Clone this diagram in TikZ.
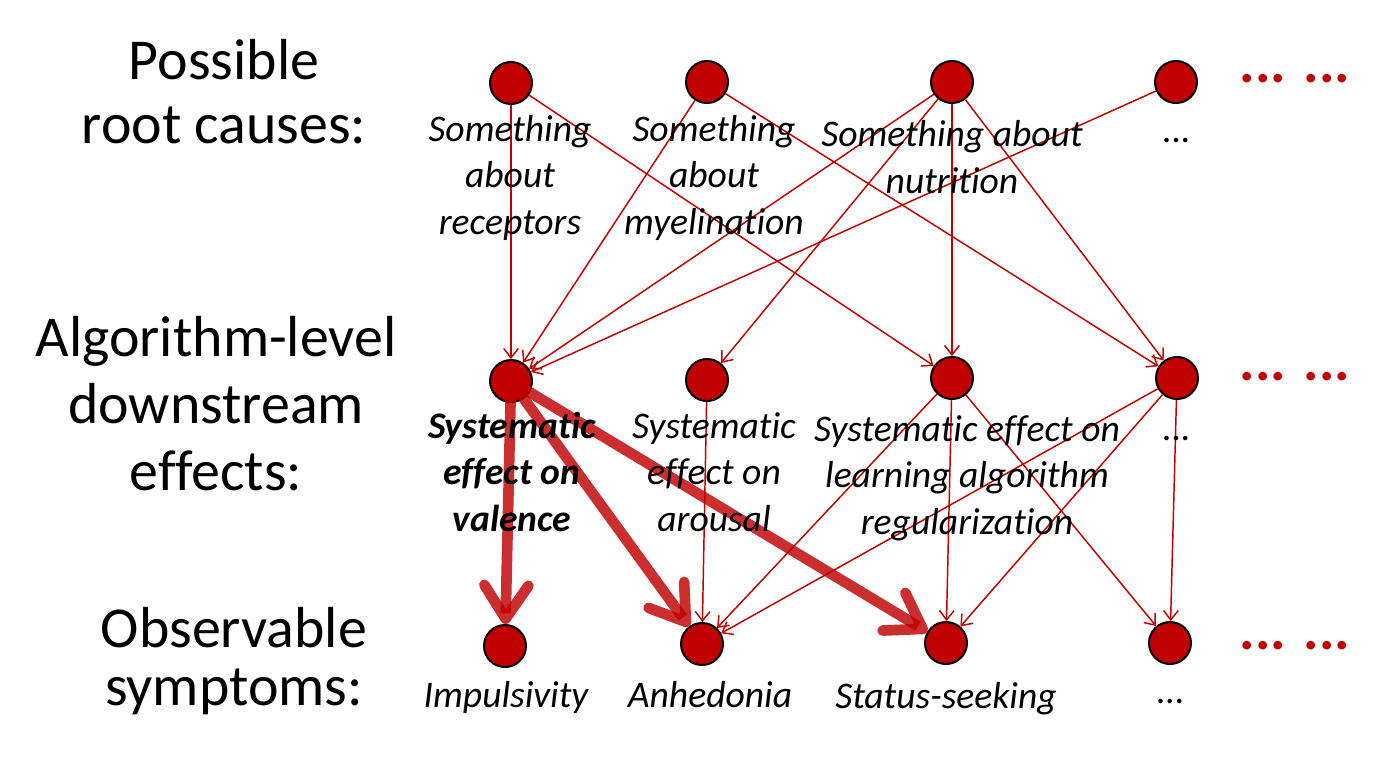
\documentclass[tikz,border=0pt]{standalone}
\usepackage{fontspec}
\setmainfont{Carlito}[Ligatures=NoCommon]
\usetikzlibrary{arrows.meta}
\definecolor{dred}{HTML}{C00000}
\begin{document}
\begin{tikzpicture}[x=0.75pt,y=-0.75pt,
  dot/.style={circle,draw=black,line width=1.5pt,fill=dred,minimum size=31.5pt,inner sep=0pt},
  lab/.style={font=\fontsize{28.2}{34.8}\selectfont\itshape,align=center,anchor=base,inner sep=0pt},
  more/.style={font=\fontsize{43.4}{47}\selectfont\bfseries,text=dred,anchor=base,inner sep=0pt},
  thinarrow/.style={draw=dred,line width=1.1pt,-{Straight Barb[length=7pt,width=11pt]}},
  thickarrow/.style={draw=dred,draw opacity=0.82,line width=8pt,-{Straight Barb[round,length=25pt,width=33pt]}},
]
\useasboundingbox (0,0) rectangle (1389,765);

% row labels (anchor base = last line)
\node[align=center,anchor=base,inner sep=0pt,font=\fontsize{43.4}{47.3}\selectfont] (r1) at (224,143) {Possible\\root causes:};
\node[align=center,anchor=base,inner sep=0pt,font=\fontsize{43.4}{49.9}\selectfont] (r2) at (216,490) {Algorithm-level\\downstream\\effects:};
\node[align=center,anchor=base,inner sep=0pt,font=\fontsize{43.4}{43.5}\selectfont] (r3) at (234,705) {Observable\\symptoms:};

% nodes
\node[dot] (t1) at (511,83) {};
\node[dot] (t2) at (707,82) {};
\node[dot] (t3) at (952,82) {};
\node[dot] (t4) at (1176,82) {};
\node[dot] (m1) at (511,381) {};
\node[dot] (m2) at (707,380) {};
\node[dot] (m3) at (952,378) {};
\node[dot] (m4) at (1177,378) {};
\node[dot] (b1) at (505,646) {};
\node[dot] (b2) at (702,644) {};
\node[dot] (b3) at (946,643) {};
\node[dot] (b4) at (1170,643) {};

% thin edges
\draw[thinarrow] (t1) -- (m1);
\draw[thinarrow] (t1) -- (m3);
\draw[thinarrow] (t2) -- (m1);
\draw[thinarrow] (t2) -- (m4);
\draw[thinarrow] (t3) -- (m1);
\draw[thinarrow] (t3) -- (m2);
\draw[thinarrow] (t3) -- (m3);
\draw[thinarrow] (t3) -- (m4);
\draw[thinarrow] (t4) -- (m1);
\draw[thinarrow] (m2) -- (b2);
\draw[thinarrow] (m3) -- (b2);
\draw[thinarrow] (m3) -- (b3);
\draw[thinarrow] (m3) -- (b4);
\draw[thinarrow] (m4) -- (b2);
\draw[thinarrow] (m4) -- (b3);
\draw[thinarrow] (m4) -- (b4);

% thick edges
\draw[thickarrow] (m1.center) -- (b1);
\draw[thickarrow] (m1.center) -- (b2);
\draw[thickarrow] (m1.center) -- (b3);

% node labels (anchor base = last line)
\node[lab] (lt1) at (510,234) {Something\\about\\receptors};
\node[lab] (lt2) at (714,234) {Something\\about\\myelination};
\node[lab] (lt3) at (952,193) {Something about\\nutrition};
\node[lab,font=\fontsize{28.2}{34.8}\selectfont] (lt4) at (1176,142) {...};
\node[lab,font=\fontsize{28.2}{34.8}\selectfont\bfseries\itshape] (lm1) at (512,531) {Systematic\\effect on\\valence};
\node[lab] (lm2) at (714,531) {Systematic\\effect on\\arousal};
\node[lab] (lm3) at (967,534) {Systematic effect on\\learning algorithm\\regularization};
\node[lab,font=\fontsize{28.2}{34.8}\selectfont] (lm4) at (1176,440) {...};
\node[lab] (lb1) at (506,707) {Impulsivity};
\node[lab] (lb2) at (710,707) {Anhedonia};
\node[lab] (lb3) at (946,708) {Status-seeking};
\node[lab,font=\fontsize{28.2}{34.8}\selectfont] (lb4) at (1170,703) {...};

% continuation dots
\node[more] (e1) at (1295,82) {... ...};
\node[more] (e2) at (1295,380) {... ...};
\node[more] (e3) at (1295,649) {... ...};
\end{tikzpicture}
\end{document}
